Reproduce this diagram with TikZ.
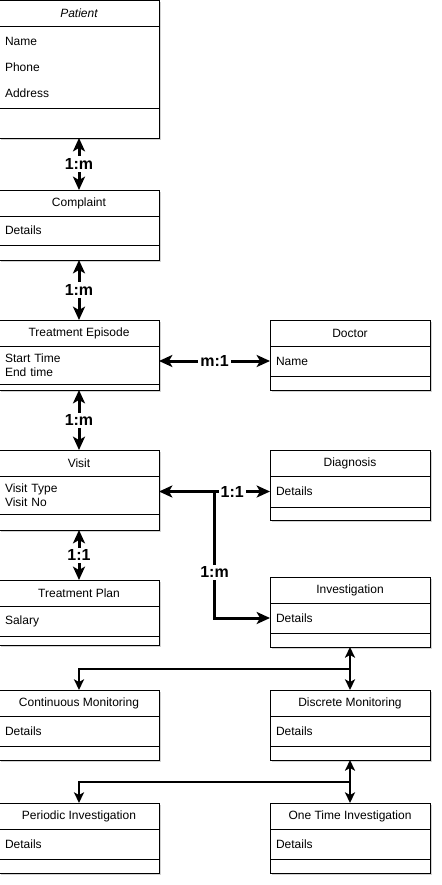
\documentclass[tikz,border=0pt]{standalone}
\usepackage{fontspec}
\setmainfont{Liberation Sans}
\usetikzlibrary{positioning}
\usetikzlibrary{arrows.meta}
\usetikzlibrary{shadows}
\usetikzlibrary{calc}

\begin{document}
\begin{tikzpicture}[
  x=0.75pt, y=-0.75pt, % one unit = one pixel, y downwards
  every node/.style={font=\fontsize{9}{10.5}\selectfont, inner sep=0pt, outer sep=0pt},
  box/.style={
    draw,
    line width=0.75pt,
    fill=white,
    minimum width=120pt,
    drop shadow={shadow xshift=1.5pt, shadow yshift=-1.5pt, opacity=0.35}
  },
  head/.style={box, minimum height=19.5pt},
  attr/.style={box, align=left, text width=111pt, inner xsep=4.5pt},
  foot/.style={box},
  rel/.style={fill=white, font=\bfseries\fontsize{12}{14}\selectfont, inner sep=1.5pt},
  link/.style={{Stealth[length=10pt, width=9pt, inset=2.5pt]}-{Stealth[length=10pt, width=9pt, inset=2.5pt]}, line width=2.25pt},
  tolink/.style={-{Stealth[length=10pt, width=9pt, inset=2.5pt]}, line width=2.25pt},
  sublink/.style={{Stealth[length=8pt, width=7.5pt, inset=2pt]}-{Stealth[length=8pt, width=7.5pt, inset=2pt]}, line width=1.5pt},
  subto/.style={-{Stealth[length=8pt, width=7.5pt, inset=2pt]}, line width=1.5pt}
]
\useasboundingbox (0,0) rectangle (442,885);

% left column
\node[head, anchor=north west, font=\fontsize{9}{10.5}\selectfont\itshape] (patient) at (-1,0) {Patient};
\node[attr, below=0pt of patient, minimum height=61.5pt, font=\fontsize{9}{19.5}\selectfont] (patientattr) {Name\\Phone\\Address};
\node[foot, below=0pt of patientattr, minimum height=22.5pt] (patientfoot) {};

\node[head, anchor=north west] (complaint) at (-1,190) {Complaint};
\node[attr, below=0pt of complaint, minimum height=21.75pt] (complaintattr) {Details};
\node[foot, below=0pt of complaintattr, minimum height=11.25pt] (complaintfoot) {};

\node[head, anchor=north west] (episode) at (-1,320) {Treatment Episode};
\node[attr, below=0pt of episode, minimum height=28.5pt] (episodeattr) {Start Time\\End time};
\node[foot, below=0pt of episodeattr, minimum height=4.5pt] (episodefoot) {};

\node[head, anchor=north west] (visit) at (-1,450) {Visit};
\node[attr, below=0pt of visit, minimum height=28.5pt] (visitattr) {Visit Type\\Visit No};
\node[foot, below=0pt of visitattr, minimum height=12pt] (visitfoot) {};

\node[head, anchor=north west] (plan) at (-1,580) {Treatment Plan};
\node[attr, below=0pt of plan, minimum height=22.5pt] (planattr) {Salary};
\node[foot, below=0pt of planattr, minimum height=6.75pt] (planfoot) {};

\node[head, anchor=north west] (cm) at (-1,690) {Continuous Monitoring};
\node[attr, below=0pt of cm, minimum height=22.5pt] (cmattr) {Details};
\node[foot, below=0pt of cmattr, minimum height=10.5pt] (cmfoot) {};

\node[head, anchor=north west] (pi) at (-1,803) {Periodic Investigation};
\node[attr, below=0pt of pi, minimum height=22.5pt] (piattr) {Details};
\node[foot, below=0pt of piattr, minimum height=10.5pt] (pifoot) {};

% right column
\node[head, anchor=north west] (doctor) at (270,320) {Doctor};
\node[attr, below=0pt of doctor, minimum height=22.5pt] (doctorattr) {Name};
\node[foot, below=0pt of doctorattr, minimum height=10.5pt] (doctorfoot) {};

\node[head, anchor=north west] (diag) at (270,450) {Diagnosis};
\node[attr, below=0pt of diag, minimum height=23.25pt] (diagattr) {Details};
\node[foot, below=0pt of diagattr, minimum height=9.75pt] (diagfoot) {};

\node[head, anchor=north west] (invest) at (270,577) {Investigation};
\node[attr, below=0pt of invest, minimum height=22.5pt] (investattr) {Details};
\node[foot, below=0pt of investattr, minimum height=10.5pt] (investfoot) {};

\node[head, anchor=north west] (dm) at (270,690) {Discrete Monitoring};
\node[attr, below=0pt of dm, minimum height=22.5pt] (dmattr) {Details};
\node[foot, below=0pt of dmattr, minimum height=10.5pt] (dmfoot) {};

\node[head, anchor=north west] (oti) at (270,803) {One Time Investigation};
\node[attr, below=0pt of oti, minimum height=22.5pt] (otiattr) {Details};
\node[foot, below=0pt of otiattr, minimum height=10.5pt] (otifoot) {};

% relations
\draw[link] (patientfoot) -- node[rel] (pc) {1:m} (complaint);
\draw[link] (complaintfoot) -- node[rel] (ce) {1:m} (episode);
\draw[link] (episodefoot) -- node[rel] (ev) {1:m} (visit);
\draw[link] (visitfoot) -- node[rel] (vp) {1:1} (plan);
\draw[link] (episodeattr.east |- doctorattr.west) -- node[rel] (ed) {m:1} (doctorattr.west);
\draw[link] (visitattr.east |- diagattr.west) -- node[rel, pos=0.66] (vd) {1:1} (diagattr.west);
\coordinate (split) at ($(visitattr.east |- diagattr.west)!0.5!(diagattr.west)$);
\draw[tolink] (split) |- node[rel, pos=0.32] (vi) {1:m} (investattr.west);

% sub types
\draw[sublink] (investfoot) -- (dm);
\coordinate (j1) at ($(investfoot.south)!0.5!(dm.north)$);
\draw[subto] (j1) -| (cm.north);
\draw[sublink] (dmfoot) -- (oti);
\coordinate (j2) at ($(dmfoot.south)!0.5!(oti.north)$);
\draw[subto] (j2) -| (pi.north);
\end{tikzpicture}
\end{document}
